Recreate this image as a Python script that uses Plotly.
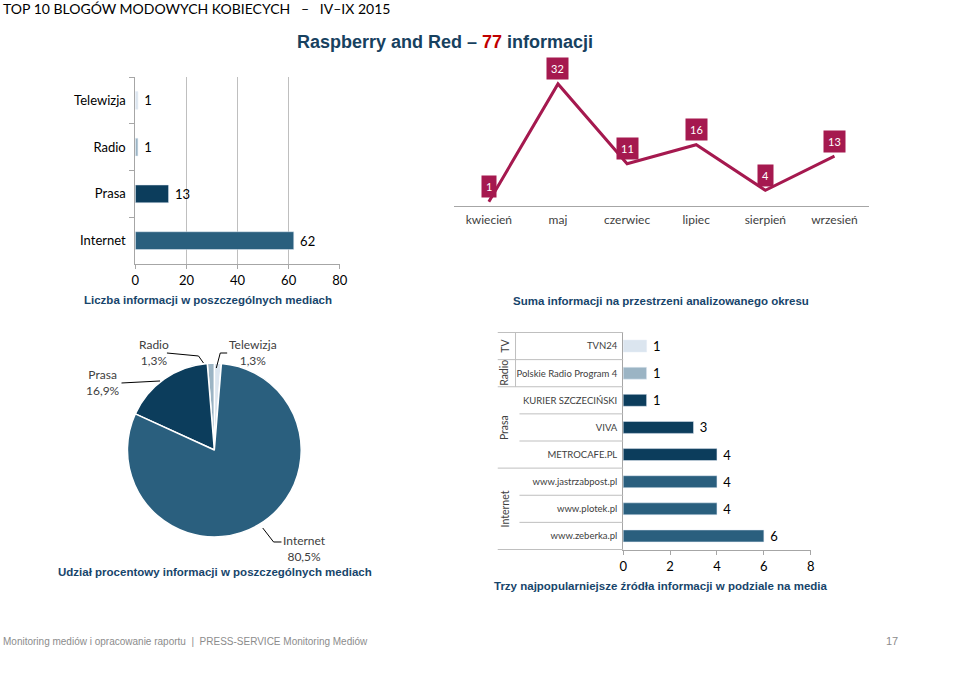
import plotly.graph_objects as go

W, H = 959, 682

# ---------------- data ----------------
media_cats = ["Telewizja", "Radio", "Prasa", "Internet"]
media_vals = [1, 1, 13, 62]

months = ["kwiecień", "maj", "czerwiec", "lipiec", "sierpień", "wrzesień"]
month_vals = [1, 32, 11, 16, 4, 13]

src_names = ["TVN24", "Polskie Radio Program 4", "KURIER SZCZECIŃSKI", "VIVA",
             "METROCAFE.PL", "www.jastrzabpost.pl", "www.plotek.pl", "www.zeberka.pl"]
src_vals = [1, 1, 1, 3, 4, 4, 4, 6]
src_groups = ["TV", "Radio", "Prasa", "Prasa", "Prasa", "Internet", "Internet", "Internet"]

# ---------------- styles ----------------
media_colors = {"Telewizja": "#dbe5ef", "Radio": "#9bb4c4", "Prasa": "#0c3d5c", "Internet": "#2a5f7e"}
group_colors = {"TV": "#dbe5ef", "Radio": "#9bb4c4", "Prasa": "#0c3d5c", "Internet": "#2a5f7e"}
LINE_COLOR = "#a5194f"
CAPTION_COLOR = "#17456b"
CAL = "Lato, 'Open Sans', sans-serif"
ARIAL = "'Liberation Sans', Arial, sans-serif"


def px(x):
    return x / W


def py(y):
    return 1 - y / H


fig = go.Figure()

# ---- top-left horizontal bar chart ----
fig.add_trace(go.Bar(
    x=media_vals, y=media_cats, orientation="h",
    marker=dict(color=[media_colors[c] for c in media_cats]),
    width=0.38, text=[" " + str(v) for v in media_vals], textposition="outside",
    constraintext="none",
    textfont=dict(family=CAL, size=13, color="#000000"), cliponaxis=False,
    xaxis="x", yaxis="y", showlegend=False, hoverinfo="x+y"))

# ---- top-right line chart ----
fig.add_trace(go.Scatter(
    x=months, y=month_vals, mode="lines",
    line=dict(color=LINE_COLOR, width=3),
    xaxis="x2", yaxis="y2", showlegend=False))

# ---- pie ----
total = sum(media_vals)
fig.add_trace(go.Pie(
    labels=media_cats, values=media_vals, sort=False, direction="counterclockwise",
    rotation=0, textinfo="none",
    marker=dict(colors=[media_colors[c] for c in media_cats], line=dict(color="#ffffff", width=1.5)),
    domain=dict(x=[px(125), px(301)], y=[py(538), py(362)]), showlegend=False))

# ---- bottom-right bar chart ----
fig.add_trace(go.Bar(
    x=src_vals, y=src_names, orientation="h",
    marker=dict(color=[group_colors[g] for g in src_groups]),
    width=0.44, text=[" " + str(v) for v in src_vals], textposition="outside",
    constraintext="none",
    textfont=dict(family=CAL, size=13, color="#000000"), cliponaxis=False,
    xaxis="x3", yaxis="y3", showlegend=False))

axis_line = "#a6a6a6"
fig.update_layout(
    width=W, height=H, margin=dict(l=0, r=0, t=0, b=0),
    paper_bgcolor="#ffffff", plot_bgcolor="rgba(0,0,0,0)",
    separators=", ",
    xaxis=dict(domain=[px(133), px(340)], range=[0, 80], dtick=20, showgrid=True,
               gridcolor="#bfbfbf", gridwidth=1, zeroline=False, showline=True, linecolor=axis_line,
               ticks="outside", ticklen=4, tickcolor=axis_line,
               tickfont=dict(family=CAL, size=13, color="#000000"), anchor="y", fixedrange=True),
    yaxis=dict(domain=[py(264), py(77)], autorange="reversed", categoryorder="array",
               categoryarray=media_cats, showline=True, linecolor=axis_line, ticks="outside",
               ticklen=5, tickcolor=axis_line, tickson="boundaries", showgrid=False,
               tickfont=dict(family=CAL, size=13, color="#000000"), anchor="x", ticklabelstandoff=6),
    xaxis2=dict(domain=[px(456), px(876)], type="category", range=[-0.5, 5.5], showline=True,
                linecolor=axis_line, showgrid=False, ticks="", anchor="y2",
                tickfont=dict(family=CAL, size=12, color="#404040"), ticklabelstandoff=3),
    yaxis2=dict(domain=[py(205.5), py(60)], range=[0, 38.3], visible=False, anchor="x2"),
    xaxis3=dict(domain=[px(627), px(817)], range=[0, 8], dtick=2, showgrid=False, zeroline=False,
                showline=True, linecolor=axis_line, ticks="outside", ticklen=4, tickcolor=axis_line,
                tickfont=dict(family=CAL, size=13, color="#000000"), anchor="y3"),
    yaxis3=dict(domain=[py(550), py(332)], autorange="reversed", categoryorder="array",
                categoryarray=src_names, showline=True, linecolor=axis_line, ticks="",
                showgrid=False, tickfont=dict(family=CAL, size=9.5, color="#404040"), anchor="x3",
                ticklabelstandoff=3),
)

annotations = []
shapes = []

# value labels for line chart
for m, v in zip(months, month_vals):
    annotations.append(dict(x=m, y=v, xref="x2", yref="y2", text=str(v), showarrow=False,
                            yshift=15, bgcolor=LINE_COLOR, borderpad=4,
                            font=dict(family=CAL, size=11, color="#ffffff")))

# titles
annotations.append(dict(x=px(-3), y=py(9), xref="paper", yref="paper", xanchor="left", yanchor="middle",
                        text="TOP 10 BLOGÓW MODOWYCH KOBIECYCH   –   IV–IX 2015", showarrow=False,
                        font=dict(family=CAL, size=14, color="#000000")))
annotations.append(dict(x=px(447), y=py(42), xref="paper", yref="paper", xanchor="center", yanchor="middle",
                        text="<b>Raspberry and Red – <span style='color:#c00000'>77</span> informacji</b>",
                        showarrow=False, font=dict(family=ARIAL, size=18, color="#17415f")))
captions = [
    (207, 300, "Liczba informacji w poszczególnych mediach"),
    (665, 301, "Suma informacji na przestrzeni analizowanego okresu"),
    (214, 572, "Udział procentowy informacji w poszczególnych mediach"),
    (665, 586, "Trzy najpopularniejsze źródła informacji w podziale na media"),
]
for cx, cy, t in captions:
    annotations.append(dict(x=px(cx), y=py(cy), xref="paper", yref="paper", xanchor="center",
                            yanchor="middle", text="<b>" + t + "</b>", showarrow=False,
                            font=dict(family=ARIAL, size=11.5, color=CAPTION_COLOR)))

# pie labels
pie_label_pos = {"Radio": (152, 352), "Telewizja": (252, 352), "Prasa": (100, 383), "Internet": (304, 548)}
for c, v in zip(media_cats, media_vals):
    pct = f"{100 * v / total:.1f}".replace(".", ",") + "%"
    lx, ly = pie_label_pos[c]
    annotations.append(dict(x=px(lx), y=py(ly), xref="paper", yref="paper", xanchor="center",
                            yanchor="middle", text=f"{c}<br>{pct}", showarrow=False,
                            font=dict(family=CAL, size=12, color="#404040")))

leaders = [
    [(165, 353), (197, 356), (202, 363)],
    [(226, 353), (219, 353), (215, 368)],
    [(119, 383), (158, 381)],
    [(262, 528), (273, 542), (281, 542)],
]
for pts in leaders:
    path = "M " + " L ".join(f"{px(x):.5f},{py(y):.5f}" for x, y in pts)
    shapes.append(dict(type="path", xref="paper", yref="paper", path=path,
                       line=dict(color="#000000", width=1)))

# group dividers for bottom-right chart
sep_col = "#bfbfbf"
group_bounds = [-0.5, 0.5, 1.5, 4.5, 7.5]
inner_bounds = [2.5, 3.5, 5.5, 6.5]
for b in group_bounds:
    shapes.append(dict(type="line", xref="paper", yref="y3", x0=px(500), x1=px(627), y0=b, y1=b,
                       line=dict(color=sep_col, width=1)))
for b in inner_bounds:
    shapes.append(dict(type="line", xref="paper", yref="y3", x0=px(522), x1=px(627), y0=b, y1=b,
                       line=dict(color=sep_col, width=1)))
shapes.append(dict(type="line", xref="paper", yref="y3", x0=px(518), x1=px(518), y0=-0.5, y1=1.5,
                   line=dict(color=sep_col, width=1)))

# group labels
groups_order = []
for i, g in enumerate(src_groups):
    if not groups_order or groups_order[-1][0] != g:
        groups_order.append([g, [i]])
    else:
        groups_order[-1][1].append(i)
for g, idx in groups_order:
    center = sum(idx) / len(idx)
    annotations.append(dict(x=px(507), y=center, xref="paper", yref="y3", text=g, textangle=-90,
                            showarrow=False, xanchor="center", yanchor="middle",
                            font=dict(family=CAL, size=10.5, color="#404040")))

# footer
annotations.append(dict(x=px(-3), y=py(641), xref="paper", yref="paper", xanchor="left", yanchor="middle",
                        text="Monitoring mediów i opracowanie raportu  |  PRESS-SERVICE Monitoring Mediów",
                        showarrow=False,
                        font=dict(family="'Liberation Sans', sans-serif", size=10, color="#8c8c8c")))
annotations.append(dict(x=px(899), y=py(641), xref="paper", yref="paper", xanchor="center", yanchor="middle",
                        text="17", showarrow=False,
                        font=dict(family="'Liberation Sans', sans-serif", size=11, color="#8c8c8c")))

fig.update_layout(annotations=annotations, shapes=shapes)

fig.write_html("out.html", config={"displayModeBar": False},
               post_script="document.body.style.margin='0';")
